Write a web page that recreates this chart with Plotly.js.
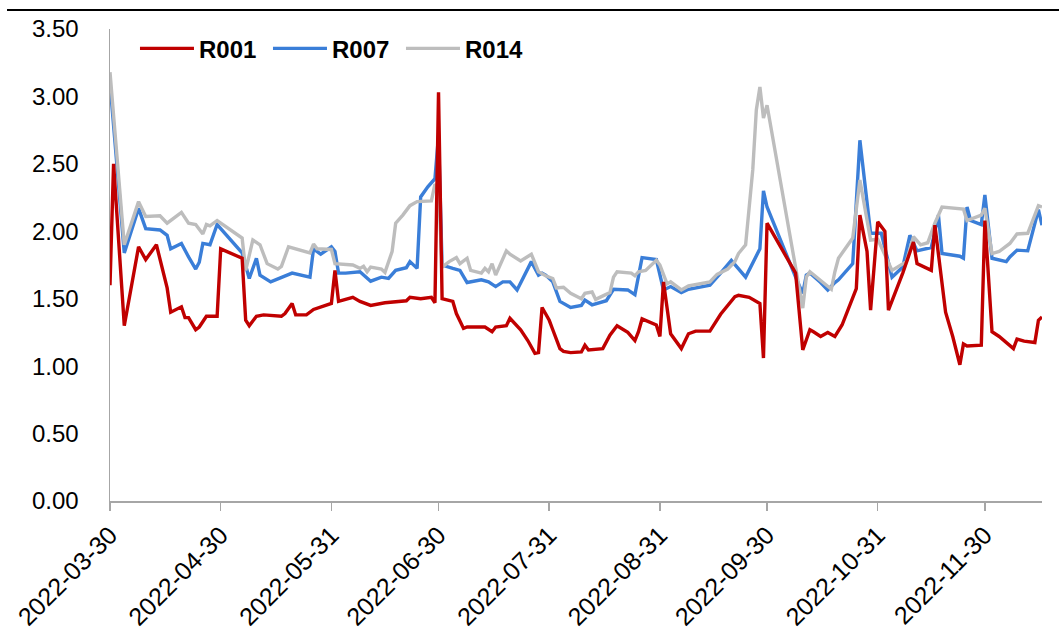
<!DOCTYPE html>
<html>
<head>
<meta charset="utf-8">
<script src="https://cdn.plot.ly/plotly-3.0.1.min.js"></script>
<style>
html,body{margin:0;padding:0;background:#fff;}
#chart{width:1059px;height:641px;}
</style>
</head>
<body>
<div id="chart"></div>
<script>
// Tick labels
const tickDates = ['2022-03-30','2022-04-30','2022-05-31','2022-06-30','2022-07-31','2022-08-31','2022-09-30','2022-10-31','2022-11-30'];
const yTicks = [0,0.5,1,1.5,2,2.5,3,3.5];

// Series: [date, rate %]
const r001 = [
['2022-03-30',1.60],['2022-03-31',2.50],['2022-04-03',1.30],['2022-04-07',1.885],['2022-04-09',1.79],
['2022-04-12',1.90],['2022-04-15',1.58],['2022-04-16',1.40],['2022-04-19',1.44],['2022-04-20',1.36],
['2022-04-21',1.36],['2022-04-23',1.27],['2022-04-24',1.29],['2022-04-26',1.37],['2022-04-29',1.37],
['2022-04-30',1.87],['2022-05-06',1.80],['2022-05-07',1.34],['2022-05-08',1.30],['2022-05-10',1.37],
['2022-05-12',1.38],['2022-05-17',1.37],['2022-05-18',1.39],['2022-05-20',1.465],['2022-05-21',1.38],
['2022-05-24',1.38],['2022-05-26',1.42],['2022-05-31',1.465],['2022-06-01',1.71],['2022-06-02',1.48],
['2022-06-06',1.51],['2022-06-08',1.48],['2022-06-11',1.45],['2022-06-15',1.47],['2022-06-21',1.485],
['2022-06-22',1.51],['2022-06-25',1.50],['2022-06-28',1.51],['2022-06-29',1.47],['2022-06-30',3.03],
['2022-07-01',1.50],['2022-07-04',1.48],['2022-07-05',1.39],['2022-07-07',1.28],['2022-07-08',1.29],
['2022-07-13',1.29],['2022-07-15',1.255],['2022-07-16',1.29],['2022-07-19',1.30],['2022-07-20',1.355],
['2022-07-23',1.27],['2022-07-25',1.19],['2022-07-27',1.095],['2022-07-28',1.10],['2022-07-29',1.435],
['2022-07-31',1.34],['2022-08-01',1.27],['2022-08-03',1.13],['2022-08-04',1.11],['2022-08-06',1.10],
['2022-08-09',1.105],['2022-08-10',1.155],['2022-08-11',1.12],['2022-08-15',1.13],['2022-08-17',1.23],
['2022-08-19',1.30],['2022-08-22',1.25],['2022-08-24',1.19],['2022-08-25',1.255],['2022-08-26',1.35],
['2022-08-30',1.305],['2022-08-31',1.22],['2022-09-01',1.625],['2022-09-03',1.24],['2022-09-06',1.13],
['2022-09-08',1.24],['2022-09-10',1.26],['2022-09-14',1.26],['2022-09-17',1.385],['2022-09-21',1.515],
['2022-09-22',1.525],['2022-09-25',1.51],['2022-09-28',1.465],['2022-09-29',1.06],['2022-09-30',2.06],
['2022-10-08',1.69],['2022-10-10',1.12],['2022-10-12',1.27],['2022-10-13',1.255],['2022-10-15',1.22],
['2022-10-17',1.25],['2022-10-19',1.22],['2022-10-21',1.305],['2022-10-25',1.575],['2022-10-26',2.12],
['2022-10-28',1.85],['2022-10-29',1.415],['2022-10-31',2.07],['2022-11-02',2.00],['2022-11-03',1.415],
['2022-11-07',1.69],['2022-11-10',1.92],['2022-11-11',1.76],['2022-11-15',1.71],['2022-11-16',2.045],
['2022-11-19',1.40],['2022-11-21',1.22],['2022-11-23',1.01],['2022-11-24',1.165],['2022-11-25',1.15],
['2022-11-29',1.155],['2022-11-30',2.08],['2022-12-02',1.255],['2022-12-04',1.22],['2022-12-08',1.13],
['2022-12-09',1.20],['2022-12-11',1.185],['2022-12-14',1.175],['2022-12-15',1.34],['2022-12-16',1.365]
];

const r007 = [
['2022-03-30',3.10],['2022-04-03',1.84],['2022-04-07',2.17],['2022-04-09',2.02],['2022-04-13',2.01],
['2022-04-15',1.97],['2022-04-16',1.87],['2022-04-19',1.91],['2022-04-21',1.81],['2022-04-23',1.72],
['2022-04-24',1.77],['2022-04-25',1.91],['2022-04-27',1.90],['2022-04-29',2.05],['2022-05-06',1.84],
['2022-05-08',1.65],['2022-05-10',1.80],['2022-05-11',1.675],['2022-05-14',1.625],['2022-05-17',1.66],
['2022-05-20',1.69],['2022-05-25',1.66],['2022-05-26',1.87],['2022-05-28',1.83],['2022-05-31',1.885],
['2022-06-01',1.85],['2022-06-02',1.69],['2022-06-04',1.69],['2022-06-08',1.70],['2022-06-11',1.63],
['2022-06-14',1.66],['2022-06-16',1.65],['2022-06-18',1.71],['2022-06-21',1.73],['2022-06-22',1.775],
['2022-06-24',1.725],['2022-06-25',2.255],['2022-06-27',2.33],['2022-06-29',2.39],['2022-06-30',2.71],
['2022-07-01',1.75],['2022-07-04',1.725],['2022-07-06',1.71],['2022-07-08',1.62],['2022-07-12',1.64],
['2022-07-14',1.625],['2022-07-16',1.59],['2022-07-18',1.625],['2022-07-20',1.625],['2022-07-22',1.565],
['2022-07-26',1.775],['2022-07-28',1.675],['2022-07-29',1.69],['2022-07-30',1.675],['2022-08-01',1.625],
['2022-08-03',1.48],['2022-08-06',1.435],['2022-08-09',1.45],['2022-08-10',1.49],['2022-08-12',1.455],
['2022-08-16',1.485],['2022-08-18',1.57],['2022-08-22',1.565],['2022-08-24',1.53],['2022-08-26',1.805],
['2022-08-30',1.79],['2022-09-01',1.565],['2022-09-03',1.59],['2022-09-06',1.545],['2022-09-08',1.57],
['2022-09-14',1.60],['2022-09-17',1.69],['2022-09-20',1.785],['2022-09-24',1.66],['2022-09-28',1.87],
['2022-09-29',2.30],['2022-09-30',2.18],['2022-10-08',1.66],['2022-10-10',1.54],['2022-10-11',1.675],
['2022-10-12',1.69],['2022-10-15',1.62],['2022-10-17',1.565],['2022-10-19',1.62],['2022-10-20',1.64],
['2022-10-24',1.76],['2022-10-26',2.675],['2022-10-29',1.985],['2022-11-01',1.985],['2022-11-04',1.66],
['2022-11-07',1.735],['2022-11-09',1.97],['2022-11-11',1.855],['2022-11-15',1.88],['2022-11-17',2.12],
['2022-11-18',1.835],['2022-11-23',1.815],['2022-11-24',1.80],['2022-11-25',2.18],['2022-11-26',2.08],
['2022-11-29',2.05],['2022-11-30',2.27],['2022-12-02',1.80],['2022-12-06',1.775],['2022-12-07',1.81],
['2022-12-09',1.86],['2022-12-12',1.855],['2022-12-15',2.16],['2022-12-16',2.045]
];

const r014 = [
['2022-03-30',3.18],['2022-04-03',1.90],['2022-04-07',2.22],['2022-04-09',2.11],['2022-04-13',2.115],
['2022-04-15',2.06],['2022-04-19',2.14],['2022-04-21',2.06],['2022-04-23',2.05],['2022-04-25',1.98],
['2022-04-26',2.05],['2022-04-27',2.04],['2022-04-29',2.08],['2022-05-06',1.95],['2022-05-07',1.71],
['2022-05-09',1.935],['2022-05-11',1.90],['2022-05-13',1.76],['2022-05-16',1.72],['2022-05-17',1.74],
['2022-05-19',1.885],['2022-05-25',1.84],['2022-05-26',1.905],['2022-05-27',1.87],['2022-05-31',1.865],
['2022-06-01',1.76],['2022-06-06',1.75],['2022-06-08',1.725],['2022-06-09',1.74],['2022-06-10',1.70],
['2022-06-11',1.735],['2022-06-14',1.72],['2022-06-15',1.695],['2022-06-17',1.85],['2022-06-18',2.06],
['2022-06-20',2.12],['2022-06-22',2.19],['2022-06-24',2.22],['2022-06-28',2.225],['2022-06-29',2.35],
['2022-06-30',2.305],['2022-07-01',1.735],['2022-07-03',1.775],['2022-07-05',1.805],['2022-07-06',1.76],
['2022-07-08',1.80],['2022-07-09',1.71],['2022-07-12',1.69],['2022-07-13',1.725],['2022-07-14',1.70],
['2022-07-15',1.76],['2022-07-16',1.675],['2022-07-19',1.855],['2022-07-20',1.83],['2022-07-23',1.78],
['2022-07-26',1.83],['2022-07-28',1.70],['2022-07-30',1.67],['2022-08-01',1.65],['2022-08-02',1.58],
['2022-08-04',1.585],['2022-08-06',1.54],['2022-08-09',1.50],['2022-08-10',1.54],['2022-08-12',1.55],
['2022-08-13',1.495],['2022-08-17',1.545],['2022-08-18',1.66],['2022-08-19',1.70],['2022-08-23',1.69],
['2022-08-24',1.67],['2022-08-25',1.70],['2022-08-27',1.71],['2022-08-30',1.785],['2022-08-31',1.75],
['2022-09-02',1.61],['2022-09-03',1.625],['2022-09-06',1.565],['2022-09-08',1.595],['2022-09-14',1.625],
['2022-09-16',1.68],['2022-09-19',1.72],['2022-09-21',1.775],['2022-09-22',1.835],['2022-09-24',1.90],
['2022-09-26',2.455],['2022-09-27',2.90],['2022-09-28',3.07],['2022-09-29',2.84],['2022-09-30',2.935],
['2022-10-10',1.43],['2022-10-11',1.66],['2022-10-12',1.70],['2022-10-16',1.61],['2022-10-18',1.57],
['2022-10-19',1.70],['2022-10-20',1.80],['2022-10-24',1.95],['2022-10-26',2.38],['2022-10-29',1.935],
['2022-10-31',1.94],['2022-11-04',1.71],['2022-11-08',1.775],['2022-11-10',1.96],['2022-11-12',1.90],
['2022-11-14',1.915],['2022-11-16',2.06],['2022-11-18',2.18],['2022-11-24',2.165],['2022-11-25',2.08],
['2022-11-29',2.12],['2022-11-30',2.17],['2022-12-02',1.835],['2022-12-04',1.85],['2022-12-07',1.91],
['2022-12-09',1.98],['2022-12-12',1.985],['2022-12-15',2.19],['2022-12-16',2.18]
];

const seriesNames = ['R001','R007','R014'];
const seriesColors = ['#C00000','#3A7ED8','#BDBDBD'];
const seriesData = [r001, r007, r014];

const FONT = '"Liberation Sans", Arial, Helvetica, sans-serif';

// draw blue first, then gray, red on top; legend order stays R001, R007, R014
const drawOrder = [1, 2, 0];
const traces = drawOrder.map(i => ({
  type: 'scatter',
  mode: 'lines',
  name: seriesNames[i],
  legendrank: i + 1,
  x: seriesData[i].map(p => p[0]),
  y: seriesData[i].map(p => p[1]),
  line: {color: seriesColors[i], width: 3.4},
  hoverinfo: 'x+y+name'
}));

const layout = {
  width: 1059,
  height: 641,
  margin: {l: 110, r: 17, t: 29, b: 140, pad: 0},
  paper_bgcolor: '#ffffff',
  plot_bgcolor: '#ffffff',
  font: {family: FONT, size: 24, color: '#000000'},
  showlegend: true,
  legend: {
    orientation: 'h',
    x: 0.0268, xanchor: 'left',
    y: 0.958, yanchor: 'middle',
    bgcolor: 'rgba(0,0,0,0)',
    font: {family: FONT, size: 24, color: '#000000', weight: 'bold'},
    itemwidth: 54,
    entrywidth: 64, entrywidthmode: 'pixels',
    traceorder: 'normal'
  },
  xaxis: {
    type: 'date',
    range: ['2022-03-30', '2022-12-16'],
    tickmode: 'array',
    tickvals: tickDates,
    ticktext: tickDates,
    tickangle: -45,
    ticks: 'outside',
    ticklen: 8,
    tickwidth: 1.5,
    tickcolor: '#A6A6A6',
    showline: true,
    linecolor: '#A6A6A6',
    linewidth: 1.5,
    showgrid: false,
    zeroline: false,
    tickfont: {family: FONT, size: 25, color: '#000000'}
  },
  yaxis: {
    range: [0, 3.5],
    tickmode: 'array',
    tickvals: yTicks,
    tickformat: '.2f',
    ticks: '',
    showline: true,
    linecolor: '#A6A6A6',
    linewidth: 1.5,
    showgrid: false,
    zeroline: false,
    ticklabelstandoff: 25,
    tickfont: {family: FONT, size: 24, color: '#000000'}
  },
  shapes: [{
    type: 'line', xref: 'paper', yref: 'paper',
    x0: -0.1105, x1: 1.02, y0: 1.04, y1: 1.04,
    line: {color: '#000000', width: 2}
  }]
};

Plotly.newPlot('chart', traces, layout, {displayModeBar: false, staticPlot: true});
</script>
</body>
</html>
